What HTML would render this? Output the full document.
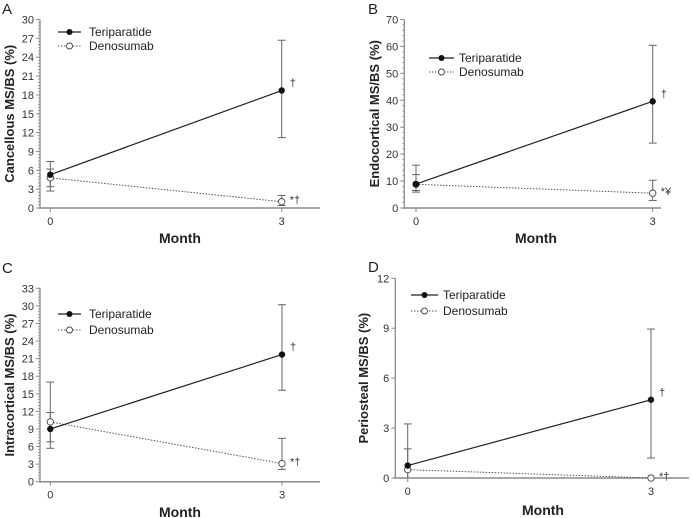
<!DOCTYPE html>
<html><head><meta charset="utf-8">
<style>
html,body{margin:0;padding:0;background:#fff;}
svg{display:block;font-family:"Liberation Sans",Arial,sans-serif;}
</style></head>
<body>
<svg id="fig" width="692" height="518" viewBox="0 0 692 518"></svg>
<script>
// Panel A (Cancellous)
const monthsCats = [0, 3];
const aTeri = [5.3, 18.7];
const aTeriHi = [7.4, 26.7];
const aTeriLo = [2.7, 11.2];
const aDeno = [4.8, 1.0];
const aDenoHi = [6.2, 2.0];
const aDenoLo = [3.4, 0.4];
const aTicks = [0,3,6,9,12,15,18,21,24,27,30];
const aNotes = ["†", "*†"];
// Panel B (Endocortical)
const bTeri = [8.9, 39.6];
const bTeriHi = [15.9, 60.4];
const bTeriLo = [5.9, 24.1];
const bDeno = [8.8, 5.5];
const bDenoHi = [12.4, 10.3];
const bDenoLo = [6.5, 2.8];
const bTicks = [0,10,20,30,40,50,60,70];
const bNotes = ["†", "*¥"];
// Panel C (Intracortical)
const cTeri = [9.0, 21.7];
const cTeriHi = [11.8, 30.2];
const cTeriLo = [6.8, 15.6];
const cDeno = [10.2, 3.1];
const cDenoHi = [17.0, 7.4];
const cDenoLo = [5.7, 2.1];
const cTicks = [0,3,6,9,12,15,18,21,24,27,30,33];
const cNotes = ["†", "*†"];
// Panel D (Periosteal)
const dTeri = [0.75, 4.7];
const dTeriHi = [3.25, 8.95];
const dTeriLo = [0.0, 1.2];
const dDeno = [0.5, 0.0];
const dDenoHi = [1.75, 0.0];
const dDenoLo = [0.0, 0.0];
const dTicks = [0,3,6,9,12];
const dNotes = ["†", "*†"];

const NS = "http://www.w3.org/2000/svg";
const svg = document.getElementById("fig");
function mk(tag, attrs, parent, text) {
  const e = document.createElementNS(NS, tag);
  for (const k in attrs) e.setAttribute(k, attrs[k]);
  if (text !== undefined) e.textContent = text;
  (parent || svg).appendChild(e);
  return e;
}

function panel(cfg) {
  const g = mk("g", {});
  
  
  const ymax = cfg.ticks[cfg.ticks.length - 1];
  const ys = v => cfg.y0 + (cfg.yTop - cfg.y0) * v / ymax;
  const xs = m => cfg.x0 + (cfg.x3 - cfg.x0) * m / 3;
  const gray = "#8a8a8a";
  // letter
  const lt = mk("text", {x: cfg.lx, y: cfg.ly, "font-size": 15, fill: "#222"}, g, cfg.letter);
  
  
  // axes
  const ya = mk("line", {x1: cfg.ax, y1: cfg.yTop, x2: cfg.ax, y2: cfg.y0 + 1, stroke: gray, "stroke-width": 1.3}, g);
  
  
  const xa = mk("line", {x1: cfg.ax, y1: cfg.y0, x2: cfg.xEnd, y2: cfg.y0, stroke: gray, "stroke-width": 1.5}, g);
  
  
  // minor ticks
  if (cfg.minor) {
    const step = (cfg.ticks[1] - cfg.ticks[0]) / cfg.minor;
    for (let v = 0; v <= ymax + 1e-9; v += step) {
      mk("line", {x1: cfg.ax - 2, y1: ys(v), x2: cfg.ax, y2: ys(v), stroke: gray, "stroke-width": 0.8}, g);
    }
  }
  cfg.ticks.forEach(v => {
    mk("line", {x1: cfg.ax - 4, y1: ys(v), x2: cfg.ax, y2: ys(v), stroke: gray, "stroke-width": 1}, g);
    const t = mk("text", {x: cfg.ax - 6, y: ys(v) + 4, "font-size": 11, "text-anchor": "end", fill: "#333"}, g, String(v));
    
    
  });
  monthsCats.forEach(m => {
    mk("line", {x1: xs(m), y1: cfg.y0, x2: xs(m), y2: cfg.y0 + 4, stroke: gray, "stroke-width": 1}, g);
    const t = mk("text", {x: xs(m), y: cfg.y0 + 17, "font-size": 11, "text-anchor": "middle", fill: "#333"}, g, String(m));
    
    
  });
  const xt = mk("text", {x: cfg.mx, y: cfg.my, "font-size": 14, "font-weight": "bold", "text-anchor": "middle", fill: "#222"}, g, "Month");
  
  
  const yt = mk("text", {x: 0, y: 0, "font-size": 13, "font-weight": "bold", "text-anchor": "middle", fill: "#222",
    transform: `translate(${cfg.yl},${(cfg.y0 + cfg.yTop) / 2}) rotate(-90)`}, g, cfg.ylabel);
  
  
  // error bars
  function errs(hi, lo, name) {
    monthsCats.forEach((m, i) => {
      if (hi[i] === lo[i]) return;
      const x = xs(m);
      const eb = mk("g", {}, g);
      
      
      mk("line", {x1: x, y1: ys(hi[i]), x2: x, y2: ys(lo[i]), stroke: "#666", "stroke-width": 1}, eb);
      mk("line", {x1: x - 4, y1: ys(hi[i]), x2: x + 4, y2: ys(hi[i]), stroke: "#666", "stroke-width": 1}, eb);
      if (lo[i] > 0) mk("line", {x1: x - 4, y1: ys(lo[i]), x2: x + 4, y2: ys(lo[i]), stroke: "#666", "stroke-width": 1}, eb);
    });
  }
  errs(cfg.tHi, cfg.tLo, 'teriparatide-error-bar');
  errs(cfg.dHi, cfg.dLo, 'denosumab-error-bar');
  // lines
  const dl = mk("polyline", {points: monthsCats.map((m, i) => xs(m) + "," + ys(cfg.d[i])).join(" "), fill: "none", stroke: "#555", "stroke-width": 1, "stroke-dasharray": "1.5,1.5"}, g);
  
  
  const tl = mk("polyline", {points: monthsCats.map((m, i) => xs(m) + "," + ys(cfg.t[i])).join(" "), fill: "none", stroke: "#222", "stroke-width": 1.2}, g);
  
  
  monthsCats.forEach((m, i) => {
    const c1 = mk("circle", {cx: xs(m), cy: ys(cfg.d[i]), r: 3.2, fill: "#fff", stroke: "#444", "stroke-width": 0.9}, g);
    
    
    const c2 = mk("circle", {cx: xs(m), cy: ys(cfg.t[i]), r: 3.2, fill: "#111"}, g);
    
    
  });
  // annotations
  const n1 = mk("text", {x: xs(3) + 8, y: ys(cfg.t[1]) - 4, "font-size": 11, fill: "#333"}, g, cfg.notes[0]);
  
  
  const n2 = mk("text", {x: xs(3) + 8, y: ys(cfg.d[1]) + 2, "font-size": 11, fill: "#333"}, g, cfg.notes[1]);
  
  
  // legend
  const lg = mk("g", {}, g);
  
  
  const e1 = mk("g", {}, lg);
  
  
  mk("line", {x1: cfg.lgx1, y1: cfg.lgy1, x2: cfg.lgx2, y2: cfg.lgy1, stroke: "#222", "stroke-width": 1.2}, e1);
  mk("circle", {cx: (cfg.lgx1 + cfg.lgx2) / 2, cy: cfg.lgy1, r: 3, fill: "#111"}, e1);
  mk("text", {x: cfg.lgtx, y: cfg.lgy1 + 4, "font-size": 12, fill: "#222"}, e1, "Teriparatide");
  const e2 = mk("g", {}, lg);
  
  
  mk("line", {x1: cfg.lgx1, y1: cfg.lgy2, x2: cfg.lgx2, y2: cfg.lgy2, stroke: "#555", "stroke-width": 1, "stroke-dasharray": "1.5,1.5"}, e2);
  mk("circle", {cx: (cfg.lgx1 + cfg.lgx2) / 2, cy: cfg.lgy2, r: 3, fill: "#fff", stroke: "#444", "stroke-width": 0.9}, e2);
  mk("text", {x: cfg.lgtx, y: cfg.lgy2 + 4, "font-size": 12, fill: "#222"}, e2, "Denosumab");
}

panel({letter: "A", lx: 2, ly: 14, ax: 40, y0: 208, yTop: 19.5, x0: 50.3, x3: 281.7, xEnd: 320,
  ticks: aTicks, minor: 6, ylabel: "Cancellous MS/BS (%)", yl: 14, mx: 180, my: 243,
  t: aTeri, tHi: aTeriHi, tLo: aTeriLo, d: aDeno, dHi: aDenoHi, dLo: aDenoLo, notes: aNotes,
  lgx1: 58, lgx2: 81, lgy1: 32, lgy2: 46, lgtx: 89});
panel({letter: "B", lx: 368, ly: 14, ax: 404.3, y0: 208, yTop: 19.5, x0: 416, x3: 652.7, xEnd: 661,
  ticks: bTicks, minor: 5, ylabel: "Endocortical MS/BS (%)", yl: 379, mx: 536, my: 243,
  t: bTeri, tHi: bTeriHi, tLo: bTeriLo, d: bDeno, dHi: bDenoHi, dLo: bDenoLo, notes: bNotes,
  lgx1: 429, lgx2: 454, lgy1: 58, lgy2: 72, lgtx: 459});
panel({letter: "C", lx: 2, ly: 273, ax: 40, y0: 481.7, yTop: 288.3, x0: 50.3, x3: 282, xEnd: 320,
  ticks: cTicks, minor: 6, ylabel: "Intracortical MS/BS (%)", yl: 14, mx: 180, my: 517,
  t: cTeri, tHi: cTeriHi, tLo: cTeriLo, d: cDeno, dHi: cDenoHi, dLo: cDenoLo, notes: cNotes,
  lgx1: 58, lgx2: 81, lgy1: 314, lgy2: 330, lgtx: 89});
panel({letter: "D", lx: 368, ly: 272, ax: 395.3, y0: 478, yTop: 278.3, x0: 407.7, x3: 651, xEnd: 689,
  ticks: dTicks, minor: 0, ylabel: "Periosteal MS/BS (%)", yl: 368, mx: 543, my: 515,
  t: dTeri, tHi: dTeriHi, tLo: dTeriLo, d: dDeno, dHi: dDenoHi, dLo: dDenoLo, notes: dNotes,
  lgx1: 411, lgx2: 438, lgy1: 295, lgy2: 311, lgtx: 443});
</script>
</body></html>
